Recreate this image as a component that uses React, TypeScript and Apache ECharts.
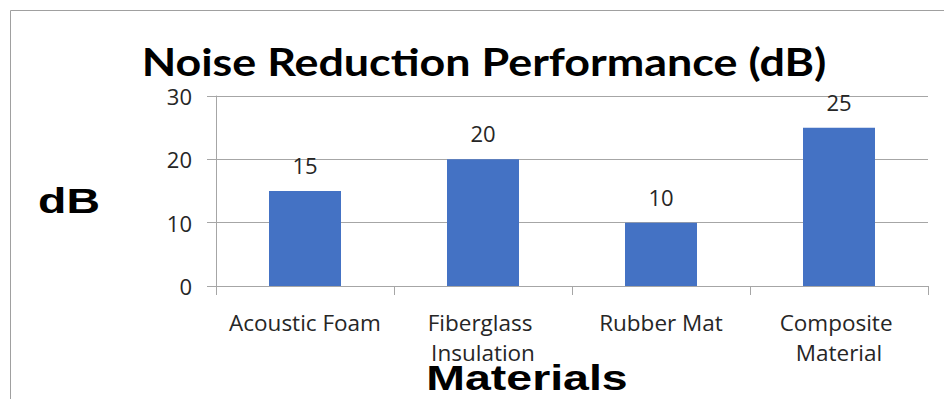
import React, { useEffect, useRef } from "react";
import * as echarts from "echarts";

const categories = ["Acoustic Foam", "Fiberglass Insulation", "Rubber Mat", "Composite Material"];
const values = [15, 20, 10, 25];
const yTicks = { min: 0, max: 30, interval: 10 };
const titleText = "Noise Reduction Performance (dB)";
const yName = "dB";
const xName = "Materials";

export default function App() {
  const ref = useRef<HTMLDivElement>(null);
  useEffect(() => {
    if (!ref.current) return;
    const chart = echarts.init(ref.current, null, { renderer: "svg" });
    const grey = "#a6a6a6";
    const textColor = "#262626";
    const labelFont = "Open Sans";
    chart.setOption({
      animation: false,
      backgroundColor: "#ffffff",
      grid: { left: 216, right: 16, top: 96, bottom: 113 },
      xAxis: {
        type: "category",
        data: categories,
        boundaryGap: true,
        axisLine: { show: true, lineStyle: { color: grey, width: 1 } },
        axisTick: { show: true, length: 9, lineStyle: { color: grey } },
        axisLabel: {
          interval: 0,
          margin: 21,
          color: textColor,
          fontFamily: labelFont,
          fontSize: 22.5,
          lineHeight: 30,
          width: 174,
          overflow: "break",
        },
      },
      yAxis: {
        type: "value",
        min: yTicks.min,
        max: yTicks.max,
        interval: yTicks.interval,
        axisLine: { show: true, lineStyle: { color: grey, width: 1 } },
        axisTick: { show: true, length: 9, lineStyle: { color: grey } },
        splitLine: { show: true, lineStyle: { color: grey, width: 1 } },
        axisLabel: {
          margin: 24,
          color: textColor,
          fontFamily: labelFont,
          fontSize: 22,
        },
      },
      series: [
        {
          type: "bar",
          data: values,
          barWidth: 72,
          itemStyle: { color: "#4472C4" },
          label: {
            show: true,
            position: "top",
            distance: 15,
            color: textColor,
            fontFamily: labelFont,
            fontSize: 22,
          },
        },
      ],
      graphic: [
        {
          type: "line",
          shape: { x1: 10.5, y1: 10.5, x2: 944, y2: 10.5 },
          style: { stroke: "#a0a0a0", lineWidth: 1 },
        },
        {
          type: "line",
          shape: { x1: 10.5, y1: 10.5, x2: 10.5, y2: 399 },
          style: { stroke: "#a0a0a0", lineWidth: 1 },
        },
        {
          type: "text",
          x: 484,
          y: 61,
          scaleX: 1.18,
          style: {
            text: titleText,
            fill: "#000000",
            font: "bold 38px Lato",
            textAlign: "center",
            textVerticalAlign: "middle",
          },
        },
        {
          type: "text",
          x: 69,
          y: 200,
          scaleX: 1.29,
          style: {
            text: yName,
            fill: "#000000",
            font: "bold 36px 'Liberation Sans'",
            textAlign: "center",
            textVerticalAlign: "middle",
          },
        },
        {
          type: "text",
          x: 527,
          y: 377,
          scaleX: 1.29,
          style: {
            text: xName,
            fill: "#000000",
            font: "bold 36px 'Liberation Sans'",
            textAlign: "center",
            textVerticalAlign: "middle",
          },
        },
      ],
    });
    return () => chart.dispose();
  }, []);
  return <div ref={ref} style={{ width: 944, height: 399, position: "absolute", left: 0, top: 0 }} />;
}
